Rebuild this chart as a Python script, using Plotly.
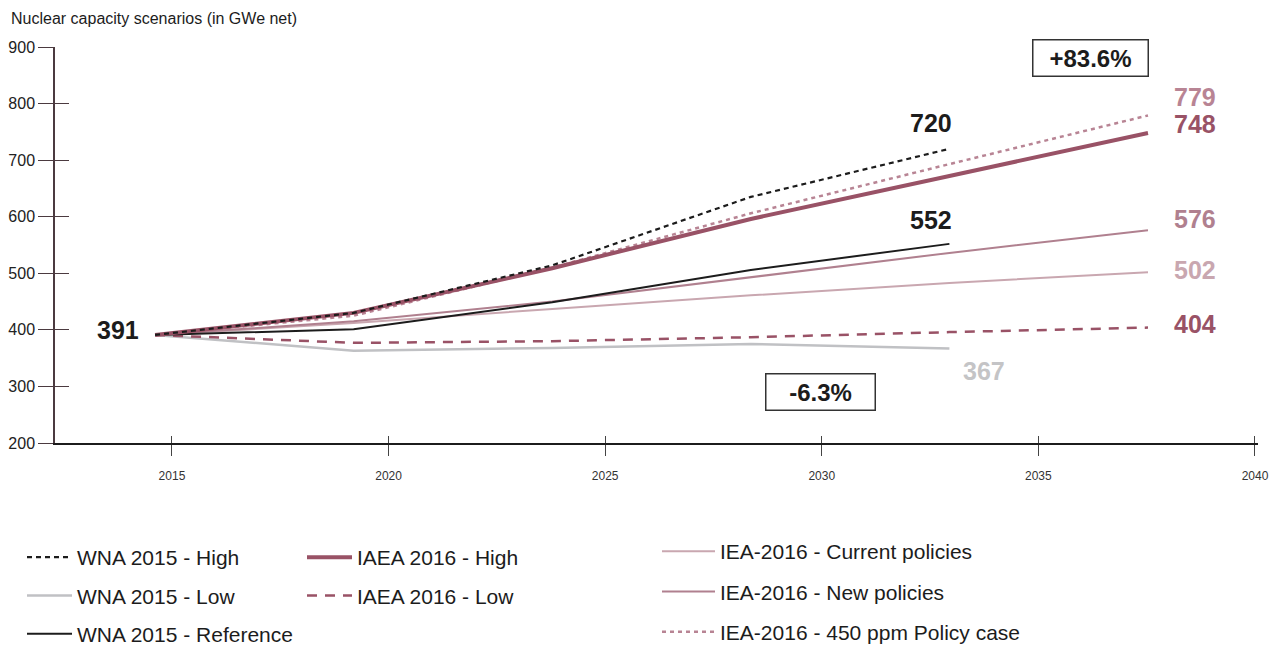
import plotly.graph_objects as go

# ── Data ──────────────────────────────────────────────
YEARS = [2015, 2020, 2025, 2030, 2035, 2040]
TICK_YEARS = [2015, 2020, 2025, 2030, 2035, 2040]

WNA_HIGH = [391, 430, 514, 635, 720]
WNA_LOW = [391, 363, 368, 375, 367]
WNA_REF = [391, 401, 449, 506, 552]
IAEA_HIGH = [391, 430, 509, 596, 672, 748]
IAEA_LOW = [391, 377, 380, 387, 396, 404]
IEA_CURRENT = [391, 412, 437, 461, 483, 502]
IEA_NEW = [391, 415, 450, 493, 536, 576]
IEA_450 = [391, 425, 510, 606, 693, 779]

# ── Styles ────────────────────────────────────────────
FONT = "Liberation Sans, Arial, sans-serif"
MAROON = "#995266"
MID = "#b0808f"
LIGHT = "#c9a7b0"
DOT = "#b88494"
GREY = "#c0c1c4"
BLACK = "#1c1c1c"

# the page body adds an 8px margin, so everything is laid out 8px up/left
OFF = 8
W, H = 1280, 647
L, R, T, B = 55 - OFF, 22 + OFF, 47 - OFF, 204 + OFF
PW, PH = W - L - R, H - T - B


def px(x):  # screen pixel -> paper x
    return (x - OFF - L) / PW


def py(y):  # screen pixel -> paper y
    return (H - B - (y - OFF)) / PH


series = [
    # name, values, color, width, dash, legend
    ("WNA 2015 - High", WNA_HIGH, BLACK, 2.2, "5px,4px", "legend"),
    ("WNA 2015 - Low", WNA_LOW, GREY, 2.5, "solid", "legend"),
    ("WNA 2015 - Reference", WNA_REF, BLACK, 2, "solid", "legend"),
    ("IAEA 2016 - High", IAEA_HIGH, MAROON, 4, "solid", "legend2"),
    ("IAEA 2016 - Low", IAEA_LOW, MAROON, 2.5, "10px,8px", "legend2"),
    ("IEA-2016 - Current policies", IEA_CURRENT, LIGHT, 2, "solid", "legend3"),
    ("IEA-2016 - New policies", IEA_NEW, MID, 2, "solid", "legend3"),
    ("IEA-2016 - 450 ppm Policy case", IEA_450, DOT, 2.5, "4px,4px", "legend3"),
]

fig = go.Figure()

# draw order: light lines first, heavy ones on top
draw_order = [1, 5, 6, 4, 7, 2, 3, 0]
for i in draw_order:
    name, vals, color, width, dash, leg = series[i]
    fig.add_trace(go.Scatter(
        x=YEARS[:len(vals)], y=vals, mode="lines", name=name,
        line=dict(color=color, width=width, dash=dash),
        legend=leg, legendgroup=name, legendrank=i,
    ))

# empty traces so the tick axes are drawn
fig.add_trace(go.Scatter(x=[], y=[], xaxis="x2", yaxis="y2", showlegend=False))
fig.add_trace(go.Scatter(x=[], y=[], xaxis="x3", yaxis="y2", showlegend=False))

# ── End-value labels ──
labels = [
    # text, x, y, color, xanchor, yanchor, xshift, yshift
    ("391", 2015, 391, BLACK, "right", "middle", -14, 5),
    ("720", 2035, 720, BLACK, "right", "bottom", 5, 10),
    ("552", 2035, 552, BLACK, "right", "bottom", 5, 8),
    ("367", 2035, 367, "#c4c4c6", "left", "top", 12, -6),
    ("779", 2040, 779, DOT, "left", "middle", 24, 18),
    ("748", 2040, 748, MAROON, "left", "middle", 24, 9),
    ("576", 2040, 576, MID, "left", "middle", 24, 11),
    ("502", 2040, 502, LIGHT, "left", "middle", 24, 2),
    ("404", 2040, 404, MAROON, "left", "middle", 24, 4),
]
for text, x, y, color, xa, ya, xs, ys in labels:
    fig.add_annotation(
        x=x, y=y, text=f"<b>{text}</b>", showarrow=False,
        xanchor=xa, yanchor=ya, xshift=xs, yshift=ys,
        font=dict(family=FONT, size=25, color=color),
    )

# boxed percentages
for text, cx, cy, bw in [("+83.6%", 1090, 58, 112), ("-6.3%", 820, 392, 106)]:
    fig.add_annotation(
        x=px(cx), y=py(cy), xref="paper", yref="paper", text=f"<b>{text}</b>",
        showarrow=False, xanchor="center", yanchor="middle",
        width=bw, height=33,
        bordercolor="#333", borderwidth=1.5, bgcolor="white",
        font=dict(family=FONT, size=24, color=BLACK),
    )

# chart title
fig.add_annotation(
    x=px(9), y=py(8), xref="paper", yref="paper",
    text="Nuclear capacity scenarios (in GWe net)", showarrow=False,
    xanchor="left", yanchor="top",
    font=dict(family=FONT, size=16, color=BLACK),
)

legend_common = dict(
    orientation="v", traceorder="grouped",
    font=dict(family=FONT, size=21, color=BLACK),
    bgcolor="rgba(0,0,0,0)",
    xref="container", yref="container", xanchor="left", yanchor="top",
)

fig.update_layout(
    width=W, height=H,
    paper_bgcolor="white", plot_bgcolor="white",
    margin=dict(l=L, r=R, t=T, b=B, autoexpand=False),
    showlegend=True,
    xaxis=dict(
        range=[2012.48, 2042.77], visible=False, fixedrange=True,
    ),
    xaxis2=dict(
        overlaying="x", range=[2012.30, 2040.07], side="bottom",
        tickvals=TICK_YEARS, ticktext=[str(t) for t in TICK_YEARS],
        ticks="outside", ticklen=11, tickwidth=1, tickcolor="#444",
        showline=True, linecolor=BLACK, linewidth=2, showgrid=False,
        zeroline=False, ticklabelstandoff=10, tickangle=0,
        tickfont=dict(family=FONT, size=12, color="#333"),
    ),
    xaxis3=dict(
        overlaying="x", range=[2012.30, 2040.07], side="bottom",
        tickvals=TICK_YEARS, showticklabels=False,
        ticks="inside", ticklen=7, tickwidth=1, tickcolor="#444",
        showline=False, showgrid=False, zeroline=False,
    ),
    yaxis=dict(
        range=[200, 900], tickvals=list(range(200, 1000, 100)),
        ticks="outside", ticklen=15, tickwidth=1, tickcolor="#4b3a40",
        showline=True, linecolor="#4b3a40", linewidth=1.5,
        showgrid=False, zeroline=False,
        tickfont=dict(family=FONT, size=16, color="#222"),
    ),
    yaxis2=dict(
        overlaying="y", range=[200, 900], tickvals=list(range(200, 1000, 100)),
        ticks="inside", ticklen=14, tickwidth=1, tickcolor="#4b3a40",
        showticklabels=False, showline=False, showgrid=False, zeroline=False,
    ),
    legend=dict(x=14 / W, y=1 - 529 / H, tracegroupgap=8, itemwidth=45,
                **legend_common),
    legend2=dict(x=294 / W, y=1 - 529 / H, tracegroupgap=8, itemwidth=45,
                 **legend_common),
    legend3=dict(x=649 / W, y=1 - 523 / H, tracegroupgap=10, itemwidth=53,
                 **legend_common),
)

fig.write_html("out.html")
